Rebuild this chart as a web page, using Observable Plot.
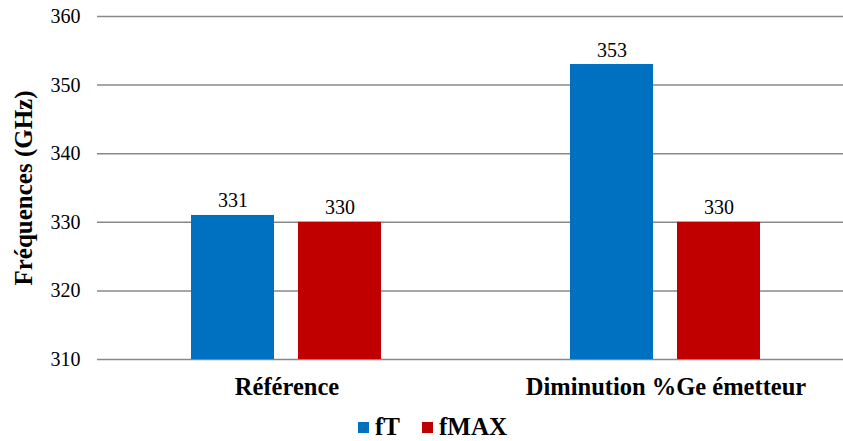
<!DOCTYPE html>
<html><head><meta charset="utf-8">
<script src="https://cdn.jsdelivr.net/npm/d3@7"></script>
<script src="https://cdn.jsdelivr.net/npm/@observablehq/plot@0.6"></script>
<style>
body{margin:0;background:#fff;font-family:"Liberation Serif",serif;width:843px;height:441px;overflow:hidden;}
#chart svg{display:block;}
#chart svg text{font-family:"Liberation Serif",serif;font-variant:normal;}
#legend{display:flex;justify-content:center;align-items:center;padding-left:22px;padding-top:7px;line-height:30px;font-size:25px;font-weight:bold;color:#000;}
#legend .sw{width:11px;height:11px;display:inline-block;margin-right:6px;}
#legend .it{display:flex;align-items:center;margin:0 11px;}
</style></head><body>
<div id="chart"></div>
<div id="legend"></div>
<script>
const categories = ["Référence", "Diminution %Ge émetteur"];
const series = ["fT", "fMAX"];
const fT = [331, 353];
const fMAX = [330, 330];
const yTicks = [310, 320, 330, 340, 350, 360];
const yBase = 310;
const colors = ["#0070C0", "#C00000"];
const yLabel = "Fréquences (GHz)";
const serif = "Liberation Serif";

const values = {fT, fMAX};
const data = categories.flatMap((c, i) => series.map(s => ({category: c, series: s, value: values[s][i]})));

const chart = Plot.plot({
  width: 843,
  height: 405,
  marginLeft: 96,
  marginRight: 0,
  marginTop: 16,
  marginBottom: 46,
  style: {fontFamily: serif, fontSize: "20px", color: "#000", background: "#fff"},
  fx: {domain: categories, range: [96, 855.5], padding: 0, label: null},
  x: {domain: series, axis: null, paddingInner: 0.222, paddingOuter: 0.868},
  y: {domain: [310, 360], label: null},
  color: {domain: series, range: colors},
  marks: [
    Plot.ruleY(yTicks, {stroke: "#888", strokeWidth: 1.5}),
    Plot.barY(data, {fx: "category", x: "series", y1: yBase, y2: "value", fill: "series"}),
    Plot.text(data, {fx: "category", x: "series", y: "value", text: d => String(d.value), dy: -8, lineAnchor: "bottom", fontSize: 20, fontFamily: serif, fill: "#000"}),
    Plot.axisY({ticks: yTicks, tickSize: 0, tickPadding: 17, label: null, fontSize: 20, fontFamily: serif}),
    Plot.axisY({ticks: [], tickSize: 0, label: yLabel, labelArrow: "none", labelAnchor: "center", labelOffset: 83, fontSize: 25, fontWeight: "bold", fontFamily: serif}),
    Plot.axisFx({anchor: "bottom", tickSize: 0, tickPadding: 18.5, fontSize: 24.5, fontWeight: "bold", fontFamily: serif, label: null})
  ]
});
document.getElementById("chart").append(chart);

const legend = document.getElementById("legend");
series.forEach((s, i) => {
  const it = document.createElement("span");
  it.className = "it";
  const sw = document.createElement("span");
  sw.className = "sw";
  sw.style.background = colors[i];
  it.append(sw, document.createTextNode(s));
  legend.append(it);
});
</script>
</body></html>
